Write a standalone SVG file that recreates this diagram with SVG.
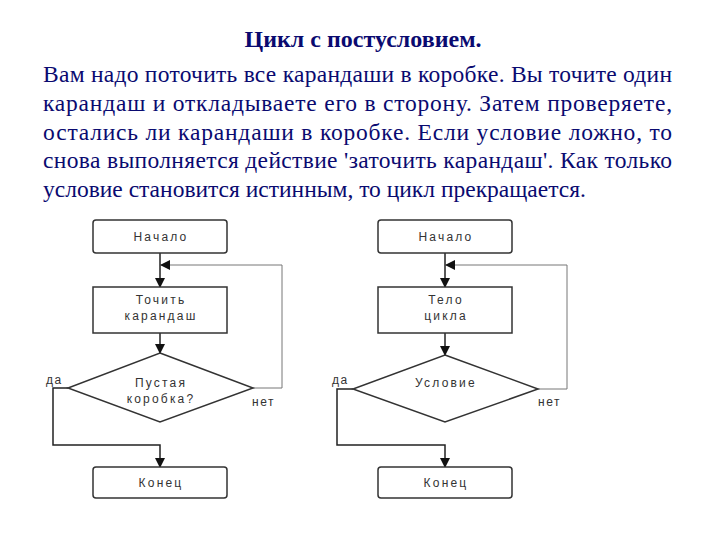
<svg xmlns="http://www.w3.org/2000/svg" width="720" height="540" viewBox="0 0 720 540">
<style>
.t{font-family:"Liberation Serif","Times New Roman",serif;fill:#0a0a70;font-size:23.5px}
.h{font-family:"Liberation Serif","Times New Roman",serif;fill:#0a0a70;font-size:24px;font-weight:bold}
.box{fill:#fff;stroke:#333;stroke-width:1.5}
.l{font-family:"Liberation Sans",Arial,sans-serif;font-size:12px;letter-spacing:2.2px;fill:#333;text-anchor:middle}
.s{font-family:"Liberation Sans",Arial,sans-serif;font-size:12px;letter-spacing:1.5px;fill:#333}
.c{fill:none;stroke:#222;stroke-width:1.5}
.thin{fill:none;stroke:#777;stroke-width:1}
</style>
<defs>
<marker id="a" markerWidth="10" markerHeight="10" refX="9" refY="5" orient="auto" markerUnits="userSpaceOnUse">
<path d="M0,0 L10,5 L0,10 z" fill="#111"/>
</marker>
</defs>
<rect width="720" height="540" fill="#fff"/>
<text class="h" x="363" y="47" text-anchor="middle">Цикл с постусловием.</text>
<text class="t" x="43" y="82" textLength="629" lengthAdjust="spacing">Вам надо поточить все карандаши в коробке. Вы точите один</text>
<text class="t" x="43" y="111" textLength="629" lengthAdjust="spacing">карандаш и откладываете его в сторону. Затем проверяете,</text>
<text class="t" x="43" y="139.5" textLength="629" lengthAdjust="spacing">остались ли карандаши в коробке. Если условие ложно, то</text>
<text class="t" x="43" y="168" textLength="629" lengthAdjust="spacing">снова выполняется действие 'заточить карандаш'. Как только</text>
<text class="t" x="43" y="196.5">условие становится истинным, то цикл прекращается.</text>

<g id="connectors">
<line class="c" x1="160" y1="253" x2="160" y2="287" marker-end="url(#a)"/>
<polyline class="thin" points="253,388 282,388 282,265 161,265" marker-end="url(#a)"/>
<line class="c" x1="160" y1="333" x2="160" y2="353" marker-end="url(#a)"/>
<polyline class="c" points="68,388 53,388 53,445 160,445 160,467" marker-end="url(#a)"/>

<line class="c" x1="445" y1="253" x2="445" y2="287" marker-end="url(#a)"/>
<polyline class="thin" points="538,389 567,389 567,265 446,265" marker-end="url(#a)"/>
<line class="c" x1="445" y1="333" x2="445" y2="355" marker-end="url(#a)"/>
<polyline class="c" points="353,389 337,389 337,445 445,445 445,467" marker-end="url(#a)"/>
</g>

<g id="start1"><rect class="box" x="93" y="220" width="134" height="33" rx="3"/><text class="l" x="161" y="241">Начало</text></g>
<g id="proc1"><rect class="box" x="93" y="287" width="134" height="46"/><text class="l" x="161" y="304">Точить</text><text class="l" x="161" y="320">карандаш</text></g>
<g id="cond1"><polygon class="box" points="160,353 253,388 160,422 68,388"/><text class="l" x="161" y="387">Пустая</text><text class="l" x="161" y="403">коробка?</text></g>
<g id="end1"><rect class="box" x="93" y="467" width="134" height="31" rx="3"/><text class="l" x="161" y="487">Конец</text></g>
<text class="s" x="46" y="384">да</text>
<text class="s" x="252" y="406">нет</text>

<g id="start2"><rect class="box" x="378" y="220" width="134" height="33" rx="3"/><text class="l" x="446" y="241">Начало</text></g>
<g id="proc2"><rect class="box" x="378" y="287" width="134" height="46"/><text class="l" x="446" y="304">Тело</text><text class="l" x="446" y="320">цикла</text></g>
<g id="cond2"><polygon class="box" points="445,355 538,389 445,422 353,389"/><text class="l" x="446" y="387">Условие</text></g>
<g id="end2"><rect class="box" x="378" y="467" width="134" height="31" rx="3"/><text class="l" x="446" y="487">Конец</text></g>
<text class="s" x="332" y="384">да</text>
<text class="s" x="538" y="406">нет</text>
</svg>
